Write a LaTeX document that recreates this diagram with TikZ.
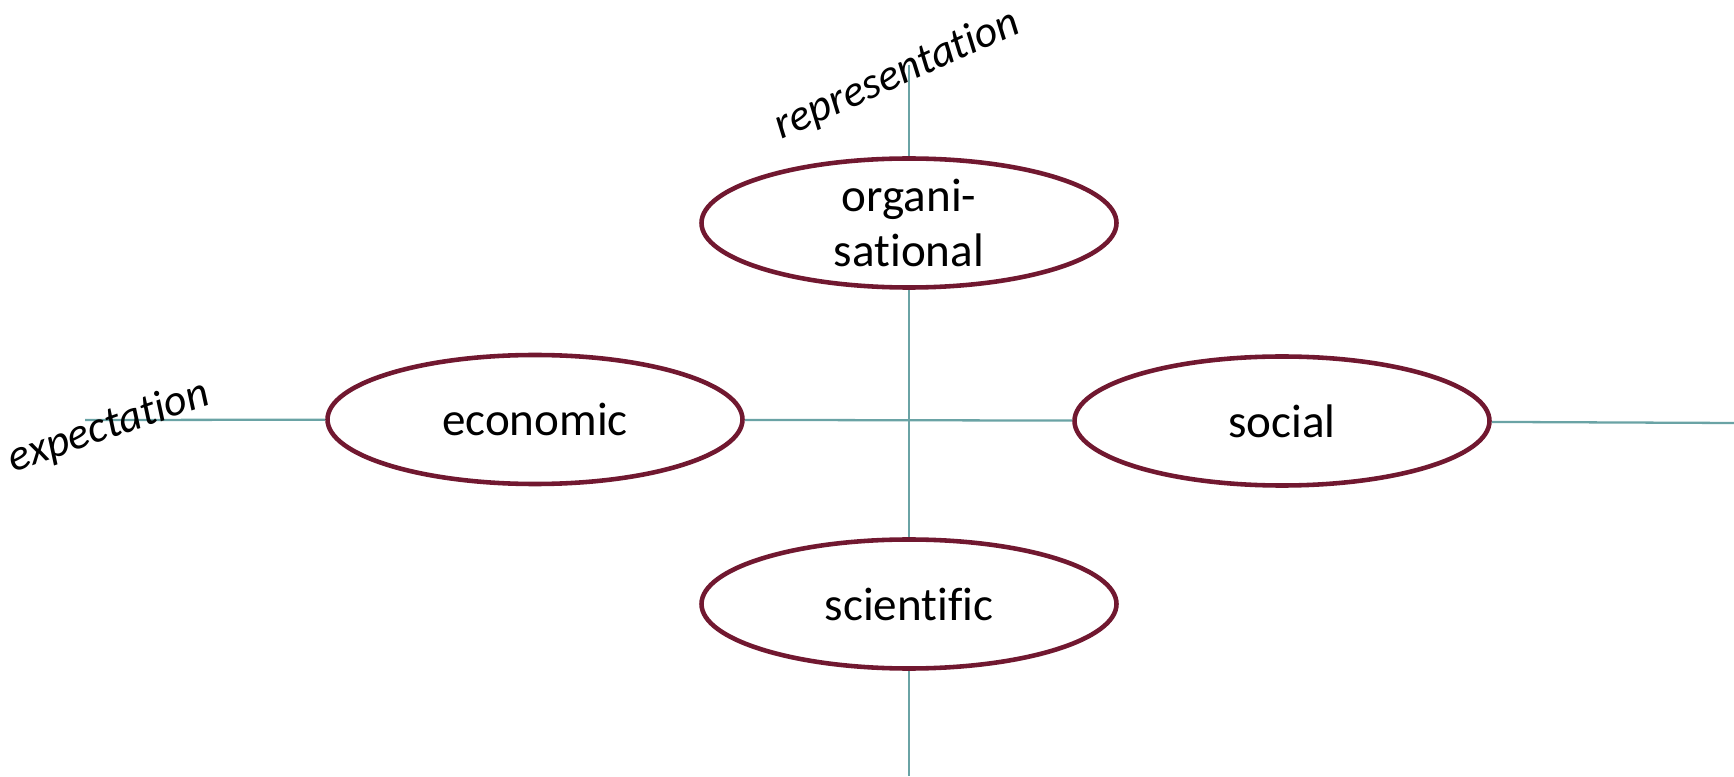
\documentclass[tikz,border=0pt]{standalone}
\usepackage{fontspec}
\setmainfont{Carlito}[Ligatures=NoCommon]
\usepackage{tikz}
\usetikzlibrary{shapes.geometric,positioning}
\definecolor{maroon}{HTML}{711830}
\definecolor{teal}{HTML}{6AA3A5}

\begin{document}
\begin{tikzpicture}[
    field/.style={ellipse,draw=maroon,line width=1.3pt,fill=white,
      minimum width=4.15cm,minimum height=1.29cm,inner sep=0pt,align=center,
      font=\fontsize{13.4}{15.6}\selectfont},
    axis/.style={draw=teal,line width=0.65pt},
    axlabel/.style={font=\fontsize{12.6}{14}\selectfont\itshape,inner sep=0pt}]
  \useasboundingbox (0,0) rectangle (17.34,7.76);
  % axis ends
  \coordinate (repT) at (9.09,7.11);
  \coordinate (repB) at (9.09,0);
  \coordinate (expL) at (0.85,3.56);
  \coordinate (expR) at (17.34,3.53);
  % fields
  \node[field] (org) at (9.09,5.53) {organi-\\sational};
  \node[field] (econ) at (5.35,3.565) {economic};
  \node[field] (soc) at (12.82,3.55) {social};
  \node[field] (sci) at (9.09,1.72) {scientific};
  % axes
  \draw[axis] (repT) -- (org) -- (sci) -- (repB);
  \draw[axis] (expL) -- (econ) -- (soc) -- (expR);
  % axis labels
  \node[axlabel,rotate=24] (rep) at (8.97,7.01) {representation};
  \node[axlabel,rotate=19] (exp) at (1.09,3.49) {expectation};
\end{tikzpicture}
\end{document}
